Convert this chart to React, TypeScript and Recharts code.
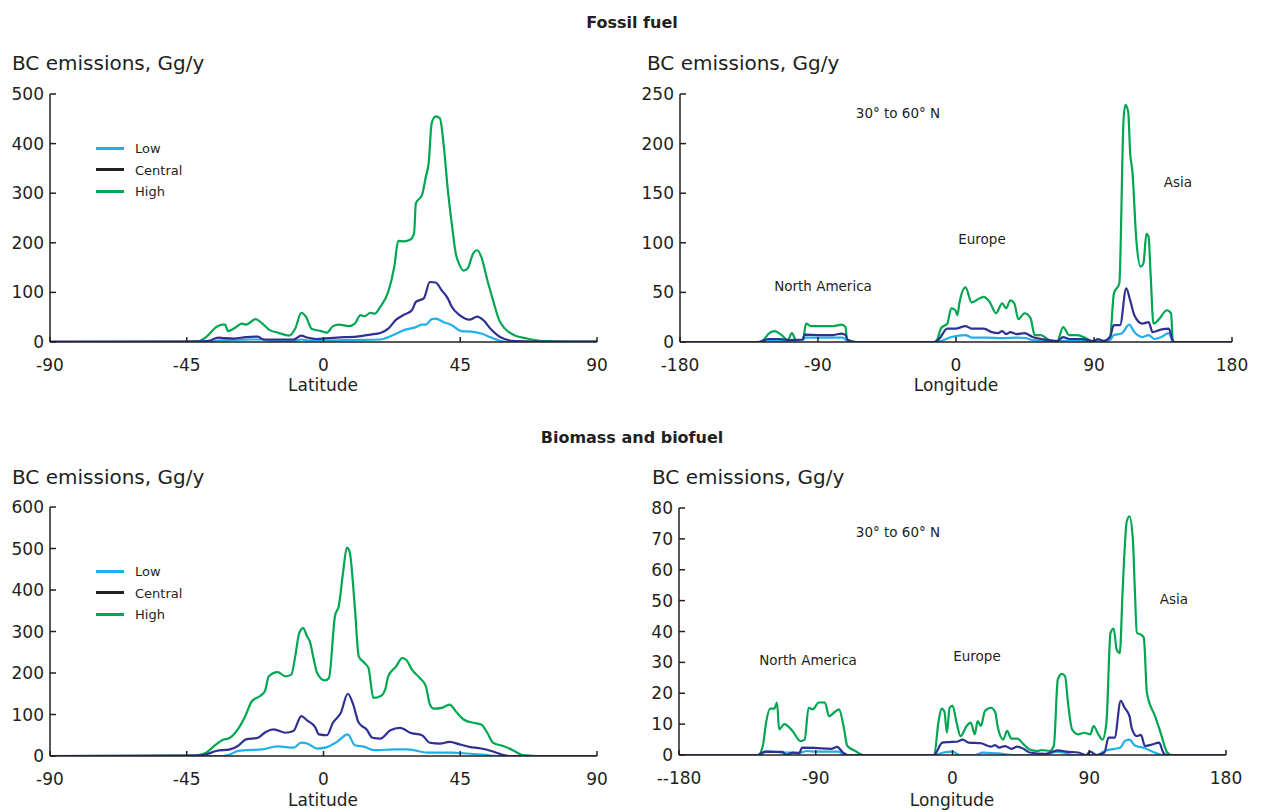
import { LineChart, Line, XAxis, YAxis } from "recharts";

type Pt = [number, number];

// scenario colours
const LOW = "#1fb0ea";
const CENTRAL = "#2e3192";
const HIGH = "#00a651";
const INK = "#231f20";
const FONT = "'DejaVu Sans', sans-serif";

// Fossil fuel, by latitude
const fossilLatLow: Pt[] = [[-90,0],[-37,0],[-35,3],[-30,4],[-24,5],[-20,5],[-18,2],[-10,2],[-7.3,5],[-5,3],[0,3],[10,4],[18.7,5],[22.6,13],[26.5,24],[30.4,30],[32.4,35],[33.7,35],[35.6,46],[36.9,47],[39.6,40],[42.2,34],[45.4,22],[48.7,21],[51.9,17],[55.2,9],[58.4,2],[62,0],[90,0]];
const fossilLatCentral: Pt[] = [[-90,1],[-45,1],[-40,1.5],[-37.3,3],[-34.7,9],[-32.7,8],[-29.5,7],[-25.5,10],[-21.6,11],[-19.7,5],[-15.1,5],[-9.9,5],[-7.3,13],[-5.4,9],[-2.1,6],[4.4,9],[10.9,11],[15.5,15],[18.7,18],[21.3,27],[23.9,45],[26.5,55],[29.1,64],[30.4,81],[33,88],[35,121],[36.9,120],[38.9,104],[40.9,88],[42.2,71],[44.8,54],[48,45],[50.6,51],[52.6,44],[55.2,25],[58.4,9],[63,2],[70,1],[90,1]];
const fossilLatHigh: Pt[] = [[-90,0],[-60,0.5],[-45,1],[-41,2],[-38.6,10],[-35.3,30],[-33.4,35],[-32.4,35],[-31.4,22],[-29.5,27],[-26.8,37],[-25.5,35],[-22.3,46],[-20.3,38],[-17.7,24],[-15.1,19],[-11.2,13],[-9.3,27],[-7.3,59],[-5.8,51],[-3.8,26],[-0.8,22],[1.1,19],[3.1,32],[5.1,35],[8.3,32],[10.3,37],[12.2,54],[13.5,52],[15.5,59],[16.8,57],[18.7,71],[21.3,101],[23.3,152],[24.6,204],[26.5,203],[28.5,206],[29.8,219],[30.4,280],[32.4,296],[33.7,334],[34.6,360],[35.6,441],[36.9,455],[38.3,451],[39.6,394],[40.9,307],[42.2,239],[43.5,179],[44.8,155],[46.1,144],[47.4,148],[49.3,179],[50.6,185],[51.9,172],[53.9,125],[55.8,84],[57.8,44],[59.7,27],[63,13],[66.9,7],[72,2],[80,1],[90,1]];

// Fossil fuel, 30-60N by longitude
const fossilLonLow: Pt[] = [[-180,0],[-126,0],[-122,1],[-110,1],[-100,2],[-98,4.5],[-88,4.5],[-74,4.5],[-71,1],[-68,0],[-12,0],[-9.7,1],[-3,5],[6.2,7],[10.2,4.5],[20,4.5],[30,4],[40,4.5],[45,4],[50,2],[60,1],[75,1.5],[90,1],[100.4,2],[103,7],[108,8.5],[113,17.5],[116.3,10],[121.6,5],[125.6,7],[129.5,3],[134,5],[138.8,9],[141.5,0],[180,0]];
const fossilLonCentral: Pt[] = [[-180,0],[-130,0],[-126,1],[-122.4,3],[-115,3],[-109,2],[-100,2.5],[-98.6,7.5],[-88,7],[-80,7],[-74.7,8.5],[-72,7],[-70.7,2],[-67,0],[-14,0],[-11,3],[-5.7,13.5],[-0.4,13.5],[6.2,16],[10.2,13.5],[18.1,13.5],[23.4,10],[27.4,9],[30.1,11],[32.7,8],[35.4,10],[39.4,8],[44.7,9],[50,5],[60.6,2],[66,1],[69.9,5],[73.8,3],[81.8,3],[89.8,1],[92.4,3],[96.4,1],[100.4,5],[103,17],[107,17],[111,54],[113.6,42],[116.3,27],[121.6,18.5],[125.6,20],[128.2,10],[133.5,12.5],[138.8,13.5],[141.5,1],[143,0],[180,0]];
const fossilLonHigh: Pt[] = [[-180,0],[-128,0],[-125,3],[-122.4,8],[-118.5,11],[-114.5,8],[-109.7,2],[-107,9],[-104.4,2],[-99.9,2],[-97.8,18.5],[-94.6,16],[-88,16],[-80,16],[-74.7,17.5],[-72,15],[-71.2,3],[-68,1],[-64,0],[-14,0],[-12.4,2],[-9.7,14],[-5.7,18.5],[-3.1,34],[-0.4,32],[0.9,27],[2.2,39],[6.2,55],[10.2,40],[15.5,44],[18.1,45.5],[22.1,40],[26.1,29],[30.1,39],[32.7,34],[35.4,42],[38,39],[40.7,23],[44.7,29],[48.6,24],[51.3,7],[55.3,7],[60.6,2],[65.9,0.5],[69.9,15],[73.8,7],[79.2,7],[84.5,4],[89.8,0],[95,0],[100.4,4],[103,49],[106.5,59],[109.3,225],[110.5,239],[112.3,232],[113.6,190],[115,173],[117.6,103],[120.3,76],[122.2,79],[124.2,109],[125.6,106],[126.9,69],[128.8,18.5],[132.2,22.6],[137.5,32],[140.2,29],[141.5,0],[180,0]];

// Biomass and biofuel, by latitude
const bioLatLow: Pt[] = [[-90,0],[-33,0],[-31.4,2],[-28.2,12],[-25.5,14],[-20.3,16],[-15.1,23],[-9.9,20],[-7.3,32],[-5.4,30],[-2.1,18],[0.5,20],[4.4,34],[8,52],[10.3,26],[13.5,22],[16.8,14],[23.9,16],[27.8,16],[34.3,8],[42.2,8],[47.4,6],[53.9,2],[57,0],[90,0]];
const bioLatCentral: Pt[] = [[-90,0],[-45,1],[-41,1.5],[-38.6,4],[-35.3,12],[-30.8,16],[-28.2,24],[-25.5,40],[-21.6,44],[-19,58],[-16.4,64],[-12.5,56],[-9.9,60],[-7.3,96],[-5.4,86],[-2.8,70],[-1.5,52],[1.1,50],[3.1,80],[5.7,104],[8,150],[9.6,128],[11.6,80],[14.2,64],[16.1,44],[18.7,42],[22,62],[25.2,68],[28.5,56],[32.4,50],[35,32],[38.3,30],[41.5,34],[44.8,28],[48,22],[51.9,18],[55.2,12],[58.4,4],[61,0],[90,0]];
const bioLatHigh: Pt[] = [[-90,0],[-60,0.5],[-45,1],[-41.2,2],[-38.6,8],[-36,24],[-33.4,38],[-30.8,44],[-28.2,64],[-25.5,100],[-23.6,132],[-21,144],[-19.3,156],[-18,192],[-15.1,202],[-12.5,192],[-10.6,196],[-9.3,240],[-8,296],[-6.7,308],[-5.4,288],[-4.5,276],[-3.4,240],[-2.1,200],[0.5,182],[1.8,188],[3.75,336],[5.1,364],[6.4,440],[7.7,502],[8.6,492],[10.3,360],[11.6,240],[13.5,224],[14.8,212],[16.4,140],[18.7,144],[20.3,160],[21.3,192],[23.9,216],[25.9,236],[27.2,232],[29.1,208],[31.7,188],[33.7,168],[35,124],[36.3,114],[38.9,116],[41.5,124],[43.5,108],[46.1,88],[49.3,80],[51.9,76],[53.9,56],[55.8,32],[59.1,24],[62.3,14],[65.6,2],[70,0],[90,0]];

// Biomass and biofuel, 30-60N by longitude
const bioLonLow: Pt[] = [[-180,0],[-126,0],[-122.7,1.3],[-112,0.8],[-100,0.8],[-96,1.3],[-90,1.1],[-75,1.1],[-71,0],[-12,0],[-6,0.8],[0,1.1],[5,0],[15,0],[20,0.8],[30,0.5],[40,0],[60,0],[69,1.1],[80,0],[95,0],[100,1.3],[106.7,2],[110.7,2.4],[113.3,4.5],[116.5,5],[120,3.1],[126.7,2.2],[133,0.8],[138,0],[180,0]];
const bioLonCentral: Pt[] = [[-180,0],[-128,0],[-124,1],[-112,1],[-109.3,0],[-105,0.8],[-101,0.5],[-99,2.4],[-90.7,2.3],[-80,2],[-76,2.6],[-72,0.8],[-69,0],[-12,0],[-10.7,0.8],[-6.7,4],[-2.7,4.2],[2.7,4.3],[6.7,5],[10.7,4],[18.7,3.8],[25.3,2.7],[28,3.2],[30.7,2.4],[34.7,2.9],[38.7,2],[42.7,2.7],[46.7,2],[50.7,0.8],[61.3,0.4],[69.3,1.5],[74.7,1.1],[82.7,0.8],[88,0],[90.7,1.1],[94.7,0],[100,0.8],[102.7,5.6],[106.7,5.6],[110.7,17.5],[113.3,15.3],[116.5,12.6],[117.9,8.8],[121.3,6.1],[124,6.5],[126.7,2.9],[132,3.5],[136,4],[138.7,0.8],[141,0],[180,0]];
const bioLonHigh: Pt[] = [[-180,0],[-128,0],[-124.8,3],[-122.7,10.5],[-120,15],[-117.3,15],[-115.5,17],[-114.1,8.3],[-110.7,10],[-105.3,7.8],[-100,4.5],[-97.3,5],[-94.7,15.3],[-92,14.8],[-88,17],[-84,17],[-81.3,12.6],[-77.3,14],[-74.7,14.8],[-71.5,8.8],[-69.3,3],[-64,1.3],[-58.7,0],[-12,0],[-9.3,10.5],[-7.2,15],[-5.3,14],[-3.7,7.2],[-1.9,15.3],[0,16],[2.7,10.5],[5.3,6.1],[9.3,9.4],[12,10.5],[14.7,6.7],[16.5,11],[18.7,9.4],[21.3,14.2],[25.3,15.3],[28,14],[29.9,8.8],[33.3,5],[36,7.8],[38.7,5.3],[42.7,5.3],[46.7,3.5],[50.7,1.8],[56,1.3],[58.7,1.6],[64,1.3],[66.7,3],[69.3,24.5],[72,26.3],[74.1,25.5],[76,17],[78.7,8.3],[82.7,6.7],[86.7,7.2],[90.7,6.7],[92.8,9.4],[96,6.7],[98.7,5],[101.3,10.5],[104,39.6],[106.1,40.9],[108,34.2],[110.1,33],[112,53.6],[114.7,75.7],[116.5,77.3],[118.7,69.8],[120,53.6],[121.3,39.6],[124,39],[125.9,38],[128,20],[133.3,12.6],[137.3,6.7],[141.3,0.8],[144,0],[180,0]];

const latTicks = [-90, -45, 0, 45, 90];
const latTickLabels = ["-90", "-45", "0", "45", "90"];
const lonTicks = [-180, -90, 0, 90, 180];
const lonTickLabels = ["-180", "-90", "0", "90", "180"];
const lonTickLabelsBio = ["--180", "-90", "0", "90", "180"];
const fossilLatY = [0, 100, 200, 300, 400, 500];
const fossilLonY = [0, 50, 100, 150, 200, 250];
const bioLatY = [0, 100, 200, 300, 400, 500, 600];
const bioLonY = [0, 10, 20, 30, 40, 50, 60, 70, 80];

const legendItems = [
  { name: "Low", color: LOW },
  { name: "Central", color: INK },
  { name: "High", color: HIGH },
];

const toRows = (pts: Pt[]) => pts.map(([x, y]) => ({ x, y }));

interface PanelProps {
  left: number;
  top: number;
  width: number;
  height: number;
  margin: { top: number; right: number; bottom: number; left: number };
  yWidth: number;
  xTicks: number[];
  xLabels: string[];
  yTicks: number[];
  low: Pt[];
  central: Pt[];
  high: Pt[];
}

function Panel(p: PanelProps) {
  const xDomain = [p.xTicks[0], p.xTicks[p.xTicks.length - 1]];
  const yDomain = [p.yTicks[0], p.yTicks[p.yTicks.length - 1]];
  const tickStyle = { fill: INK, fontSize: 17, fontFamily: FONT };
  return (
    <div style={{ position: "absolute", left: p.left, top: p.top }}>
      <LineChart width={p.width} height={p.height} margin={p.margin}>
        <XAxis
          type="number"
          dataKey="x"
          domain={xDomain}
          ticks={p.xTicks}
          allowDataOverflow
          height={30}
          tickSize={-5}
          tickMargin={22}
          tick={tickStyle}
          tickFormatter={(v: number) => p.xLabels[p.xTicks.indexOf(v)] ?? String(v)}
          axisLine={{ stroke: INK, strokeWidth: 1.5 }}
          tickLine={{ stroke: INK, strokeWidth: 1.5 }}
          interval={0}
        />
        <YAxis
          type="number"
          dataKey="y"
          domain={yDomain}
          ticks={p.yTicks}
          allowDataOverflow
          width={p.yWidth}
          tickSize={-6}
          tickMargin={12}
          tick={tickStyle}
          axisLine={{ stroke: INK, strokeWidth: 1.5 }}
          tickLine={{ stroke: INK, strokeWidth: 1.5 }}
          interval={0}
        />
        <Line data={toRows(p.high)} dataKey="y" type="monotone" stroke={HIGH} strokeWidth={2.2} dot={false} isAnimationActive={false} />
        <Line data={toRows(p.low)} dataKey="y" type="monotone" stroke={LOW} strokeWidth={2.2} dot={false} isAnimationActive={false} />
        <Line data={toRows(p.central)} dataKey="y" type="monotone" stroke={CENTRAL} strokeWidth={2.2} dot={false} isAnimationActive={false} />
      </LineChart>
    </div>
  );
}

function Txt({ x, y, size, bold, center = true, children }: { x: number; y: number; size: number; bold?: boolean; center?: boolean; children: string }) {
  return (
    <div
      style={{
        position: "absolute",
        left: x,
        top: y,
        transform: center ? "translate(-50%, -50%)" : "translateY(-50%)",
        whiteSpace: "nowrap",
        fontFamily: FONT,
        fontSize: size,
        fontWeight: bold ? "bold" : "normal",
        color: INK,
        lineHeight: 1,
      }}
    >
      {children}
    </div>
  );
}

function Legend({ top }: { top: number }) {
  return (
    <>
      {legendItems.map((it, i) => (
        <div key={it.name}>
          <div style={{ position: "absolute", left: 96, top: top + i * 21.5 - 1.5, width: 28, height: 3, background: it.color }} />
          <Txt x={135} y={top + i * 21.5} size={13} center={false}>{it.name}</Txt>
        </div>
      ))}
    </>
  );
}

export default function App() {
  return (
    <div style={{ position: "absolute", left: 0, top: 0, width: 1265, height: 812, background: "#fff", overflow: "hidden" }}>
      <Panel left={0} top={0} width={620} height={400} margin={{ top: 94, right: 23, bottom: 28, left: 0 }} yWidth={50}
        xTicks={latTicks} xLabels={latTickLabels} yTicks={fossilLatY} low={fossilLatLow} central={fossilLatCentral} high={fossilLatHigh} />
      <Panel left={630} top={0} width={635} height={400} margin={{ top: 94, right: 33, bottom: 28, left: 0 }} yWidth={50}
        xTicks={lonTicks} xLabels={lonTickLabels} yTicks={fossilLonY} low={fossilLonLow} central={fossilLonCentral} high={fossilLonHigh} />
      <Panel left={0} top={414} width={620} height={398} margin={{ top: 93, right: 23, bottom: 26, left: 0 }} yWidth={50}
        xTicks={latTicks} xLabels={latTickLabels} yTicks={bioLatY} low={bioLatLow} central={bioLatCentral} high={bioLatHigh} />
      <Panel left={630} top={414} width={635} height={398} margin={{ top: 94, right: 39, bottom: 27, left: 0 }} yWidth={49}
        xTicks={lonTicks} xLabels={lonTickLabelsBio} yTicks={bioLonY} low={bioLonLow} central={bioLonCentral} high={bioLonHigh} />

      <Txt x={632} y={23} size={16} bold>Fossil fuel</Txt>
      <Txt x={632} y={438} size={16} bold>Biomass and biofuel</Txt>

      <Txt x={12} y={63} size={20} center={false}>BC emissions, Gg/y</Txt>
      <Txt x={647} y={63} size={20} center={false}>BC emissions, Gg/y</Txt>
      <Txt x={12} y={477} size={20} center={false}>BC emissions, Gg/y</Txt>
      <Txt x={652} y={477} size={20} center={false}>BC emissions, Gg/y</Txt>

      <Txt x={323} y={385} size={17}>Latitude</Txt>
      <Txt x={956} y={385} size={17}>Longitude</Txt>
      <Txt x={323} y={800} size={17}>Latitude</Txt>
      <Txt x={952} y={800} size={17}>Longitude</Txt>

      <Legend top={148} />
      <Legend top={571} />

      <Txt x={898} y={114} size={13.5}>30° to 60° N</Txt>
      <Txt x={823} y={287} size={13.5}>North America</Txt>
      <Txt x={982} y={240} size={13.5}>Europe</Txt>
      <Txt x={1178} y={183} size={13.5}>Asia</Txt>

      <Txt x={898} y={533} size={13.5}>30° to 60° N</Txt>
      <Txt x={808} y={661} size={13.5}>North America</Txt>
      <Txt x={977} y={657} size={13.5}>Europe</Txt>
      <Txt x={1174} y={600} size={13.5}>Asia</Txt>
    </div>
  );
}
